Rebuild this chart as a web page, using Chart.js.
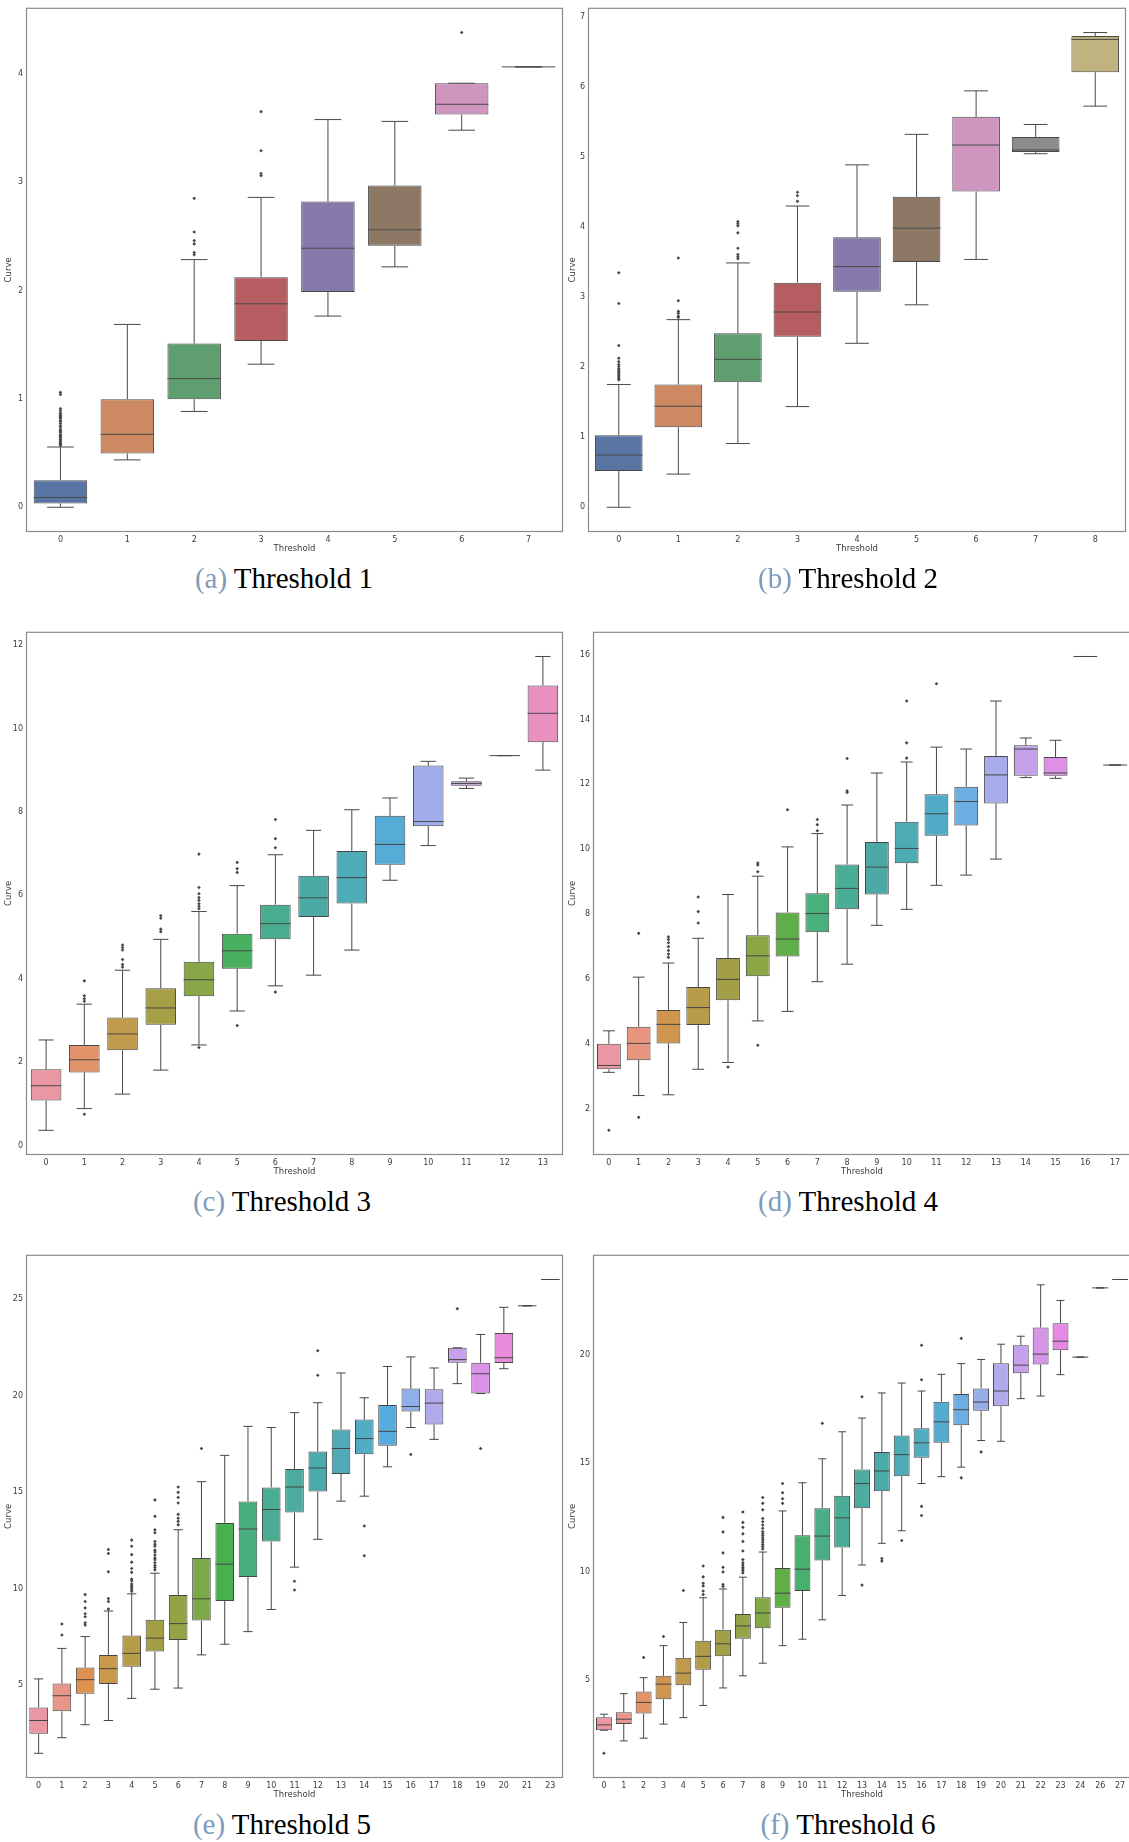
<!DOCTYPE html>
<html>
<head>
<meta charset="utf-8">
<script src="https://cdn.jsdelivr.net/npm/chart.js@4.4.1/dist/chart.umd.min.js"></script>
<style>
  html, body { margin: 0; padding: 0; width: 1129px; height: 1842px; overflow: hidden; background: #ffffff; }
  .panel { position: absolute; }
  .panel canvas { display: block; }
  .cap { position: absolute; width: 400px; text-align: center; white-space: nowrap;
         font-family: "Liberation Serif", "DejaVu Serif", serif; font-size: 29px; line-height: 29px; color: #000; }
  .cap span { color: #7e9bbd; }
</style>
</head>
<body>
<script>
// ---------------- Threshold 1 ----------------
const catsA = ['0','1','2','3','4','5','6','7'];
const q1A  = [0.035, 0.496, 0.996, 1.535, 1.986, 2.412, 3.623, 4.063];
const medA = [0.09, 0.673, 1.187, 1.877, 2.39, 2.56, 3.718, 4.063];
const q3A  = [0.25, 0.996, 1.51, 2.123, 2.82, 2.968, 3.912, 4.063];
const loA  = [0.0, 0.437, 0.884, 1.32, 1.764, 2.218, 3.479, 4.063];
const hiA  = [0.556, 1.687, 2.285, 2.859, 3.577, 3.56, 3.912, 4.063];
const outA = [
  [0.57,0.58,0.59,0.6,0.61,0.62,0.63,0.64,0.65,0.66,0.67,0.69,0.7,0.71,0.72,0.74,0.75,0.77,0.79,0.8,0.82,0.83,0.84,0.85,0.86,0.87,0.89,0.91,1.04,1.06],
  [], [2.33,2.35,2.43,2.46,2.54,2.85], [3.06,3.08,3.29,3.65], [], [], [4.38], []
];
const yTicksA = [0, 1, 2, 3, 4];

// ---------------- Threshold 2 ----------------
const catsB = ['0','1','2','3','4','5','6','7','8'];
const q1B  = [0.517, 1.144, 1.786, 2.435, 3.077, 3.502, 4.51, 5.076, 6.215];
const medB = [0.746, 1.443, 2.113, 2.789, 3.437, 3.987, 5.174, 5.103, 6.683];
const q3B  = [1.029, 1.754, 2.484, 3.208, 3.856, 4.434, 5.577, 5.289, 6.732];
const loB  = [0.0, 0.474, 0.91, 1.438, 2.342, 2.892, 3.54, 5.05, 5.73];
const hiB  = [1.754, 2.68, 3.49, 4.303, 4.891, 5.327, 5.948, 5.468, 6.781];
const outB = [
  [1.82,1.84,1.86,1.88,1.9,1.92,1.94,1.96,1.98,2.01,2.04,2.08,2.13,2.31,2.91,3.35],
  [2.71,2.73,2.77,2.8,2.95,3.56],
  [3.55,3.58,3.61,3.7,3.92,4.02,4.05,4.08],
  [4.37,4.45,4.5], [], [], [], [], []
];
const yTicksB = [0, 1, 2, 3, 4, 5, 6, 7];

// ---------------- Threshold 3 ----------------
const catsC = ['0','1','2','3','4','5','6','7','8','9','10','11','12','13'];
const q1C  = [1.079, 1.755, 2.285, 2.898, 3.583, 4.241, 4.945, 5.484, 5.804, 6.737, 7.66, 8.629, 9.351, 9.671];
const medC = [1.435, 2.057, 2.678, 3.3, 3.976, 4.671, 5.32, 5.941, 6.426, 7.221, 7.77, 8.684, 9.351, 10.366];
const q3C  = [1.828, 2.413, 3.071, 3.775, 4.406, 5.082, 5.777, 6.472, 7.066, 7.907, 9.113, 8.739, 9.351, 11.033];
const loC  = [0.366, 0.887, 1.234, 1.81, 2.413, 3.227, 3.83, 4.086, 4.689, 6.362, 7.194, 8.565, 9.351, 9.004];
const hiC  = [2.532, 3.391, 4.205, 4.945, 5.612, 6.234, 6.974, 7.559, 8.053, 8.336, 9.214, 8.812, 9.351, 11.728];
const outC = [
  [], [0.75,3.46,3.52,3.59,3.95], [4.28,4.34,4.46,4.69,4.75,4.81], [5.13,5.19,5.45,5.51],
  [2.35,5.68,5.74,5.8,5.88,5.95,6.04,6.19,6.99], [2.88,6.55,6.64,6.79], [3.68,7.14,7.36,7.82],
  [], [], [], [], [], [], []
];
const yTicksC = [0, 2, 4, 6, 8, 10, 12];

// ---------------- Threshold 4 ----------------
const catsD = ['0','1','2','3','4','5','6','7','8','9','10','11','12','13','14','15','16','17'];
const q1D  = [3.22, 3.502, 4.019, 4.582, 5.345, 6.084, 6.694, 7.445, 8.15, 8.607, 9.57, 10.415, 10.731, 11.412, 12.269, 12.269, 15.942, 12.597];
const medD = [3.338, 4.019, 4.605, 5.122, 5.99, 6.718, 7.234, 8.02, 8.795, 9.452, 10.027, 11.095, 11.471, 12.292, 13.09, 12.351, 15.942, 12.597];
const q3D  = [4.007, 4.535, 5.051, 5.755, 6.647, 7.351, 8.056, 8.642, 9.534, 10.227, 10.849, 11.694, 11.928, 12.879, 13.208, 12.844, 15.942, 12.597];
const loD  = [3.127, 2.411, 2.434, 3.22, 3.432, 4.711, 5.004, 5.92, 6.46, 7.657, 8.15, 8.889, 9.206, 9.699, 12.21, 12.187, 15.942, 12.597];
const hiD  = [4.406, 6.06, 6.495, 7.258, 8.607, 9.171, 10.074, 10.485, 11.365, 12.351, 12.691, 13.149, 13.09, 14.569, 13.431, 13.36, 15.942, 12.597];
const outD = [
  [1.34], [1.74,7.41], [6.67,6.77,6.88,7.0,7.12,7.22,7.3], [7.73,8.08,8.53], [3.29],
  [3.96,9.31,9.52,9.58], [11.22], [10.57,10.76,10.92], [11.75,11.8,12.8], [],
  [12.81,13.28,14.57], [15.1], [], [], [], [], [], []
];
const yTicksD = [2, 4, 6, 8, 10, 12, 14, 16];

// ---------------- Threshold 5 ----------------
const catsE = ['0','1','2','3','4','5','6','7','8','9','10','11','12','13','14','15','16','17','18','19','20','21','23'];
const q1E  = [2.493, 3.657, 4.566, 5.079, 5.967, 6.757, 7.349, 8.356, 9.363, 10.607, 12.443, 13.944, 15.03, 15.938, 16.965, 17.399, 19.176, 18.504, 21.703, 20.104, 21.683, 24.645, 26.007];
const medE = [3.184, 4.467, 5.296, 5.869, 6.658, 7.448, 8.198, 9.482, 11.278, 13.095, 14.102, 15.267, 16.254, 17.26, 17.774, 18.149, 19.432, 19.61, 21.861, 21.13, 21.96, 24.645, 26.007];
const q3E  = [3.855, 5.099, 5.928, 6.579, 7.586, 8.396, 9.679, 11.594, 13.411, 14.516, 15.247, 16.195, 17.103, 18.248, 18.761, 19.511, 20.36, 20.321, 22.473, 21.703, 23.243, 24.645, 26.007];
const loE  = [1.486, 2.295, 2.966, 3.184, 4.329, 4.803, 4.862, 6.579, 7.132, 7.784, 8.929, 11.12, 12.562, 14.536, 14.793, 16.313, 18.346, 17.734, 20.617, 20.104, 21.387, 24.645, 26.007];
const hiE  = [5.336, 6.915, 7.527, 8.85, 9.738, 10.805, 13.055, 15.543, 16.905, 18.406, 18.346, 19.116, 19.63, 21.17, 19.886, 21.506, 21.999, 21.427, 22.473, 23.164, 24.566, 24.645, 26.007];
const outE = [
  [], [7.61,8.18], [8.12,8.24,8.55,8.71,9.01,9.34,9.7], [8.95,9.34,9.5,10.88,11.83,12.03],
  [9.86,9.95,10.05,10.15,10.25,10.4,10.5,10.85,11.05,11.38,11.77,12.2,12.52],
  [10.98,11.1,11.2,11.35,11.5,11.6,11.75,11.9,12.0,12.2,12.3,12.45,12.9,13.05,13.75,14.6],
  [13.31,13.49,13.65,13.85,14.44,14.73,14.99,15.27], [17.26], [], [], [], [9.94,10.39],
  [21.05,22.32], [], [11.71,13.25], [], [16.95], [], [24.49], [17.26], [], [], []
];
const yTicksE = [5, 10, 15, 20, 25];

// ---------------- Threshold 6 ----------------
const catsF = ['0','1','2','3','4','5','6','7','8','9','10','11','12','13','14','15','16','17','18','19','20','21','22','23','24','26','27'];
const q1F  = [2.658, 2.94, 3.433, 4.085, 4.736, 5.458, 6.074, 6.884, 7.377, 8.327, 9.102, 10.511, 11.109, 12.923, 13.715, 14.401, 15.264, 15.951, 16.76, 17.43, 17.641, 19.173, 19.577, 20.229, 19.912, 23.116, 23.504];
const medF = [2.905, 3.169, 3.944, 4.789, 5.299, 6.074, 6.655, 7.482, 8.081, 8.996, 10.106, 11.637, 12.482, 14.067, 14.648, 15.405, 15.951, 16.919, 17.482, 17.835, 18.345, 19.542, 20.053, 20.651, 19.912, 23.116, 23.504];
const q3F  = [3.257, 3.486, 4.454, 5.176, 6.004, 6.796, 7.306, 8.028, 8.803, 10.158, 11.673, 12.923, 13.504, 14.718, 15.528, 16.285, 16.62, 17.852, 18.204, 18.468, 19.63, 20.458, 21.285, 21.479, 19.912, 23.116, 23.504];
const loF  = [2.658, 2.165, 2.289, 2.94, 3.239, 3.803, 4.613, 5.176, 5.757, 6.567, 6.866, 7.764, 8.891, 10.299, 11.303, 11.884, 14.067, 14.384, 14.824, 16.056, 16.021, 17.993, 18.116, 19.102, 19.912, 23.116, 23.504];
const hiF  = [3.398, 4.349, 5.088, 6.567, 7.641, 8.785, 9.19, 9.736, 10.898, 12.8, 14.102, 15.211, 16.461, 17.095, 18.257, 18.715, 18.345, 19.12, 19.613, 19.806, 20.511, 20.88, 23.257, 22.535, 19.912, 23.116, 23.504];
const outF = [
  [1.59], [], [6.02], [6.99], [9.12], [8.93,9.1,9.33,9.45,9.75,10.25],
  [9.31,9.4,9.98,10.19,10.86,11.83,12.5],
  [9.93,10.03,10.12,10.2,10.3,10.4,10.55,10.95,11.39,11.74,12.04,12.27,12.75],
  [11.04,11.15,11.25,11.35,11.45,11.55,11.65,11.75,11.85,12.0,12.15,12.3,12.45,12.85,13.15,13.42],
  [13.15,13.36,13.64,14.07], [], [16.85], [], [9.37,18.08], [10.48,10.6], [11.43],
  [12.59,13.01,18.87,20.46], [], [14.33,20.78], [15.53], [], [], [], [], [], [], []
];
const yTicksF = [5, 10, 15, 20];

const captionLabels = ['(a)', '(b)', '(c)', '(d)', '(e)', '(f)'];
const captionTitles = ['Threshold 1', 'Threshold 2', 'Threshold 3', 'Threshold 4', 'Threshold 5', 'Threshold 6'];

// ---------------- colour helpers (seaborn-style palettes) ----------------
const DEEP = ['#4C72B0','#DD8452','#55A868','#C44E52','#8172B3','#937860','#DA8BC3','#8C8C8C','#CCB974','#64B5CD'];

function hexToRgb(h) { const n = parseInt(h.slice(1), 16); return [(n >> 16 & 255) / 255, (n >> 8 & 255) / 255, (n & 255) / 255]; }
function rgbToHex(c) { return '#' + c.map(v => Math.round(Math.min(1, Math.max(0, v)) * 255).toString(16).padStart(2, '0')).join(''); }
function rgbToHls([r, g, b]) {
  const mx = Math.max(r, g, b), mn = Math.min(r, g, b), sum = mx + mn, rng = mx - mn, l = sum / 2;
  if (mx === mn) return [0, l, 0];
  const s = l <= 0.5 ? rng / sum : rng / (2 - sum);
  const rc = (mx - r) / rng, gc = (mx - g) / rng, bc = (mx - b) / rng;
  let h = r === mx ? bc - gc : g === mx ? 2 + rc - bc : 4 + gc - rc;
  h = ((h / 6) % 1 + 1) % 1;
  return [h, l, s];
}
function hlsToRgb([h, l, s]) {
  if (s === 0) return [l, l, l];
  const m2 = l <= 0.5 ? l * (1 + s) : l + s - l * s, m1 = 2 * l - m2;
  const v = (hue) => { hue = ((hue % 1) + 1) % 1;
    if (hue < 1 / 6) return m1 + (m2 - m1) * hue * 6;
    if (hue < 0.5) return m2;
    if (hue < 2 / 3) return m1 + (m2 - m1) * (2 / 3 - hue) * 6;
    return m1; };
  return [v(h + 1 / 3), v(h), v(h - 1 / 3)];
}
function desaturate(rgb, f) { const [h, l, s] = rgbToHls(rgb); return hlsToRgb([h, l, s * f]); }

// HUSL (HSLuv) conversion
const HM = [[3.2406, -1.5372, -0.4986], [-0.9689, 1.8758, 0.0415], [0.0557, -0.2040, 1.0570]];
const REF_U = 0.19784, REF_V = 0.46834, LAB_E = 0.008856, LAB_K = 903.3;
function maxChroma(L, H) {
  const hr = H * Math.PI / 180, sH = Math.sin(hr), cH = Math.cos(hr);
  const sub1 = Math.pow(L + 16, 3) / 1560896, sub2 = sub1 > LAB_E ? sub1 : L / LAB_K;
  let res = Infinity;
  for (const [m1, m2, m3] of HM) {
    const top = (0.99915 * m1 + 1.05122 * m2 + 1.14460 * m3) * sub2;
    const rb = 0.86330 * m3 - 0.17266 * m2, lb = 0.12949 * m3 - 0.38848 * m1;
    const bottom = (rb * sH + lb * cH) * sub2;
    for (const t of [0, 1]) {
      const C = L * (top - 1.05122 * t) / (bottom + 0.17266 * sH * t);
      if (C > 0 && C < res) res = C;
    }
  }
  return res;
}
function fromLinear(c) { return c <= 0.0031308 ? 12.92 * c : 1.055 * Math.pow(c, 1 / 2.4) - 0.055; }
function huslToRgb(H, S, L) {
  if (L > 99.9999) return [1, 1, 1];
  if (L < 0.00001) return [0, 0, 0];
  const C = maxChroma(L, H) / 100 * S, hr = H * Math.PI / 180;
  const U = Math.cos(hr) * C, V = Math.sin(hr) * C;
  const t = (L + 16) / 116, varY = t * t * t > LAB_E ? t * t * t : (116 * t - 16) / LAB_K;
  const varU = U / (13 * L) + REF_U, varV = V / (13 * L) + REF_V;
  const Y = varY, X = -(9 * Y * varU) / ((varU - 4) * varV - varU * varV);
  const Z = (9 * Y - 15 * varV * Y - varV * X) / (3 * varV);
  return HM.map(r => Math.min(1, Math.max(0, fromLinear(r[0] * X + r[1] * Y + r[2] * Z))));
}
function boxPalette(n) {
  let base;
  if (n <= DEEP.length) base = DEEP.slice(0, n).map(hexToRgb);
  else {
    base = [];
    for (let i = 0; i < n; i++) base.push(huslToRgb(((i / n + 0.01) % 1) * 359, 0.9 * 99, 0.7 * 99));
  }
  return base.map(c => desaturate(c, 0.75));
}
function lineGray(rgbs) {
  const lum = Math.min(...rgbs.map(c => rgbToHls(c)[1])) * 0.6;
  return rgbToHex([lum, lum, lum]);
}

// ---------------- drawing plugins ----------------
const boxLines = {
  id: 'boxLines',
  afterDatasetsDraw(chart) {
    const ds = chart.data.datasets[0], meta = chart.getDatasetMeta(0);
    const y = chart.scales.y, ctx = chart.ctx;
    ctx.save();
    ctx.strokeStyle = ds.lineColor;
    ctx.lineWidth = 1;
    const seg = (x1, y1, x2, y2) => { ctx.beginPath(); ctx.moveTo(x1, y1); ctx.lineTo(x2, y2); ctx.stroke(); };
    ds.data.forEach((pair, i) => {
      const bar = meta.data[i];
      const cx = bar.x, w = bar.width;
      const yq1 = y.getPixelForValue(pair[0]), yq3 = y.getPixelForValue(pair[1]);
      const ylo = y.getPixelForValue(ds.whiskerLo[i]), yhi = y.getPixelForValue(ds.whiskerHi[i]);
      const ymed = y.getPixelForValue(ds.median[i]);
      seg(cx, yq1, cx, ylo);
      seg(cx, yq3, cx, yhi);
      seg(cx - w / 4, ylo, cx + w / 4, ylo);
      seg(cx - w / 4, yhi, cx + w / 4, yhi);
      seg(cx - w / 2, ymed, cx + w / 2, ymed);
    });
    ctx.restore();
  }
};
const frame = {
  id: 'frame',
  afterDraw(chart) {
    const { left, top, right, bottom } = chart.chartArea, ctx = chart.ctx;
    ctx.save();
    ctx.strokeStyle = '#8a8a8a';
    ctx.lineWidth = 1.2;
    ctx.strokeRect(left - 0.5, top - 0.5, right - left + 1, bottom - top + 1);
    ctx.restore();
  }
};

// ---------------- panel geometry ----------------
const panelBoxes = [
  { left: 0,   top: 0,    axisW: 27, plotW: 536, plotH: 524, capX: 284, capTop: 564 },
  { left: 564, top: 0,    axisW: 25, plotW: 537, plotH: 524, capX: 848, capTop: 564 },
  { left: 0,   top: 624,  axisW: 27, plotW: 536, plotH: 523, capX: 282, capTop: 1187 },
  { left: 564, top: 624,  axisW: 30, plotW: 537, plotH: 523, capX: 848, capTop: 1187 },
  { left: 0,   top: 1247, axisW: 27, plotW: 536, plotH: 523, capX: 282, capTop: 1810 },
  { left: 564, top: 1247, axisW: 30, plotW: 537, plotH: 523, capX: 848, capTop: 1810 }
];
const PAD_TOP = 7, PAD_RIGHT = 3, X_AXIS_H = 23;
const TICK_FONT = { family: 'DejaVu Sans', size: 8 };
const TITLE_FONT = { family: 'DejaVu Sans', size: 8.5 };

function buildPanel(box, cats, q1, med, q3, lo, hi, out, yTicks) {
  const wrap = document.createElement('div');
  wrap.className = 'panel';
  wrap.style.left = box.left + 'px';
  wrap.style.top = box.top + 'px';
  const cv = document.createElement('canvas');
  const W = box.axisW + box.plotW + PAD_RIGHT, H = PAD_TOP + box.plotH + X_AXIS_H;
  cv.width = W; cv.height = H; cv.style.width = W + 'px'; cv.style.height = H + 'px';
  wrap.appendChild(cv);
  document.body.appendChild(wrap);

  const rgbs = boxPalette(cats.length);
  const colors = rgbs.map(rgbToHex);
  const gray = lineGray(rgbs);

  const allVals = [].concat(lo, hi, q1, q3, ...out);
  const vMin = Math.min(...allVals), vMax = Math.max(...allVals), margin = (vMax - vMin) * 0.05;

  const outlierPts = [];
  out.forEach((vals, i) => vals.forEach(v => outlierPts.push({ x: cats[i], y: v })));

  new Chart(cv, {
    type: 'bar',
    data: {
      labels: cats,
      datasets: [
        {
          type: 'bar',
          data: q1.map((v, i) => [v, q3[i]]),
          backgroundColor: colors,
          borderColor: gray,
          borderWidth: 1,
          borderSkipped: false,
          barPercentage: 0.8,
          categoryPercentage: 1,
          grouped: false,
          median: med, whiskerLo: lo, whiskerHi: hi, lineColor: gray
        },
        {
          type: 'scatter',
          data: outlierPts,
          pointStyle: 'rectRot',
          pointRadius: 1.8,
          backgroundColor: gray,
          borderWidth: 0,
          showLine: false
        }
      ]
    },
    options: {
      responsive: false,
      animation: false,
      devicePixelRatio: 1,
      events: [],
      layout: { padding: { top: PAD_TOP, right: PAD_RIGHT, left: 0, bottom: 0 } },
      plugins: { legend: { display: false }, tooltip: { enabled: false } },
      scales: {
        x: {
          type: 'category',
          offset: true,
          grid: { display: false, drawTicks: false },
          border: { display: false },
          ticks: { autoSkip: false, maxRotation: 0, padding: 4, color: '#3c3c3c', font: TICK_FONT },
          title: { display: true, text: 'Threshold', color: '#3c3c3c', font: TITLE_FONT, padding: 0 },
          afterFit: (s) => { s.height = X_AXIS_H; }
        },
        y: {
          type: 'linear',
          min: vMin - margin,
          max: vMax + margin,
          grid: { display: false, drawTicks: false },
          border: { display: false },
          afterBuildTicks: (s) => { s.ticks = yTicks.map(v => ({ value: v })); },
          ticks: { padding: 4, color: '#3c3c3c', font: TICK_FONT },
          title: { display: true, text: 'Curve', color: '#3c3c3c', font: TITLE_FONT, padding: { top: 4, bottom: 0 } },
          afterFit: (s) => { s.width = box.axisW; }
        }
      }
    },
    plugins: [boxLines, frame]
  });
}

function buildCaption(box, label, title) {
  const d = document.createElement('div');
  d.className = 'cap';
  d.style.left = (box.capX - 200) + 'px';
  d.style.top = box.capTop + 'px';
  const s = document.createElement('span');
  s.textContent = label;
  d.appendChild(s);
  d.appendChild(document.createTextNode(' ' + title));
  document.body.appendChild(d);
}

const panelData = [
  [catsA, q1A, medA, q3A, loA, hiA, outA, yTicksA],
  [catsB, q1B, medB, q3B, loB, hiB, outB, yTicksB],
  [catsC, q1C, medC, q3C, loC, hiC, outC, yTicksC],
  [catsD, q1D, medD, q3D, loD, hiD, outD, yTicksD],
  [catsE, q1E, medE, q3E, loE, hiE, outE, yTicksE],
  [catsF, q1F, medF, q3F, loF, hiF, outF, yTicksF]
];
panelData.forEach((p, i) => {
  buildPanel(panelBoxes[i], ...p);
  buildCaption(panelBoxes[i], captionLabels[i], captionTitles[i]);
});
</script>
</body>
</html>
